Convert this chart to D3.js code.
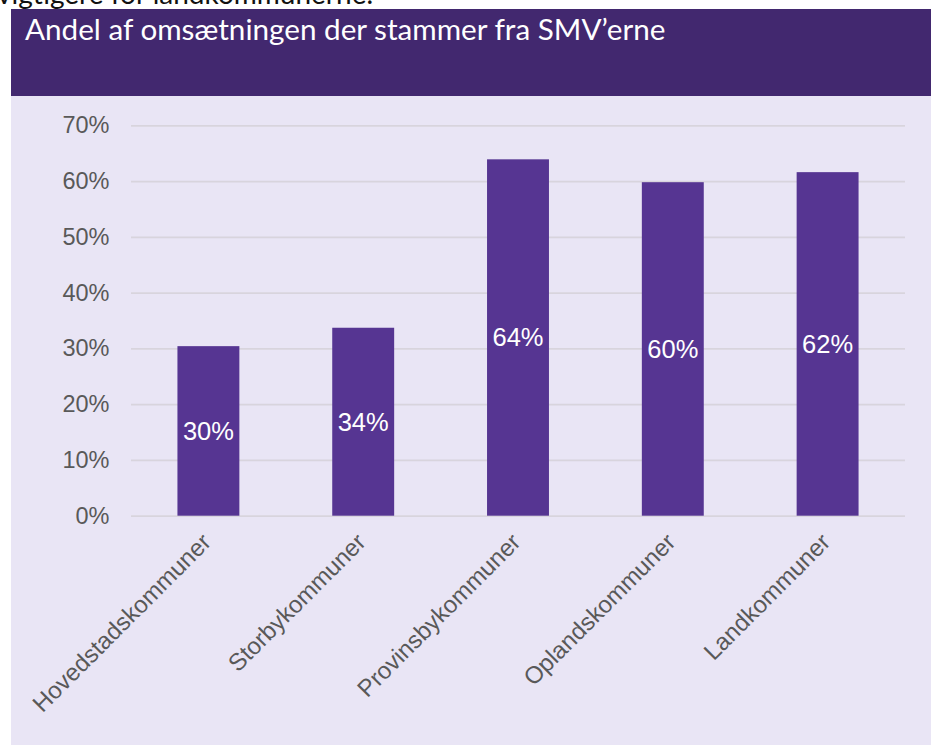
<!DOCTYPE html>
<html>
<head>
<meta charset="utf-8">
<script src="https://cdn.jsdelivr.net/npm/d3@7"></script>
<style>
  html, body { margin: 0; padding: 0; background: #ffffff; }
  svg { display: block; }
</style>
</head>
<body>
<svg id="chart" width="931" height="745"></svg>
<script>
// ---- Data ----
const categories = ["Hovedstadskommuner", "Storbykommuner", "Provinsbykommuner", "Oplandskommuner", "Landkommuner"];
const shares = [0.304, 0.337, 0.639, 0.598, 0.616];
const yTicks = [0, 0.1, 0.2, 0.3, 0.4, 0.5, 0.6, 0.7];
const titleText = "Andel af omsætningen der stammer fra SMV’erne";
const aboveText = "vigtigere for landkommunerne.";

const svg = d3.select("#chart");
const W = 931, H = 745;

// text partially hidden above the header (cut off in the reference too)
svg.append("text")
  .attr("x", -3).attr("y", 4)
  .attr("font-family", "Lato, 'Open Sans', sans-serif")
  .attr("font-size", 28)
  .attr("fill", "#111")
  .text(aboveText);

// backgrounds
svg.append("rect").attr("x", 11).attr("y", 96).attr("width", W - 11).attr("height", H - 96).attr("fill", "#E9E5F5");
svg.append("rect").attr("x", 11).attr("y", 9).attr("width", W - 11).attr("height", 87).attr("fill", "#42286F");

// title, fitted to reference width
const title = svg.append("text")
  .attr("x", 25).attr("y", 39.5)
  .attr("font-family", "Lato, 'Open Sans', sans-serif")
  .attr("font-size", 28)
  .attr("fill", "#ffffff")
  .text(titleText);
const tw = title.node().getComputedTextLength();
title.attr("font-size", 28 * 641 / tw);

// scales
const x = d3.scaleBand().domain(categories).range([131, 905]).paddingInner(0.6).paddingOuter(0.3);
const y = d3.scaleLinear().domain([0, 0.7]).range([515.7, 125.3]);

// y axis with gridlines
const yAxis = svg.append("g")
  .attr("transform", "translate(131,0)")
  .call(d3.axisLeft(y).tickValues(yTicks).tickFormat(d3.format(".0%")).tickSizeInner(-774).tickSizeOuter(0).tickPadding(21.5));
yAxis.select(".domain").remove();
yAxis.selectAll(".tick line").attr("stroke", "#D8D4DD").attr("stroke-width", 1.8);
yAxis.selectAll(".tick text")
  .attr("font-family", "'Liberation Sans', Arial, sans-serif")
  .attr("font-size", 23.5)
  .attr("fill", "#595959");

// bars
svg.append("g").selectAll("rect")
  .data(categories.map((c, i) => ({ c, v: shares[i] })))
  .join("rect")
  .attr("x", d => x(d.c))
  .attr("width", x.bandwidth())
  .attr("y", d => y(d.v))
  .attr("height", d => y(0) - y(d.v))
  .attr("fill", "#563592");

// data labels
svg.append("g").selectAll("text")
  .data(categories.map((c, i) => ({ c, v: shares[i] })))
  .join("text")
  .attr("x", d => x(d.c) + x.bandwidth() / 2)
  .attr("y", d => (y(d.v) + y(0)) / 2)
  .attr("dy", "0.35em")
  .attr("text-anchor", "middle")
  .attr("font-family", "'Liberation Sans', Arial, sans-serif")
  .attr("font-size", 25.5)
  .attr("fill", "#ffffff")
  .text(d => d3.format(".0%")(d.v));

// x axis labels
const xAxis = svg.append("g")
  .attr("transform", "translate(0,515.7)")
  .call(d3.axisBottom(x).tickSize(0).tickPadding(0));
xAxis.select(".domain").remove();
xAxis.selectAll(".tick text")
  .attr("font-family", "'Liberation Sans', Arial, sans-serif")
  .attr("font-size", 24)
  .attr("fill", "#595959")
  .attr("text-anchor", "end")
  .attr("dy", null)
  .attr("y", null)
  .attr("transform", "translate(4,28) rotate(-45)");
</script>
</body>
</html>
